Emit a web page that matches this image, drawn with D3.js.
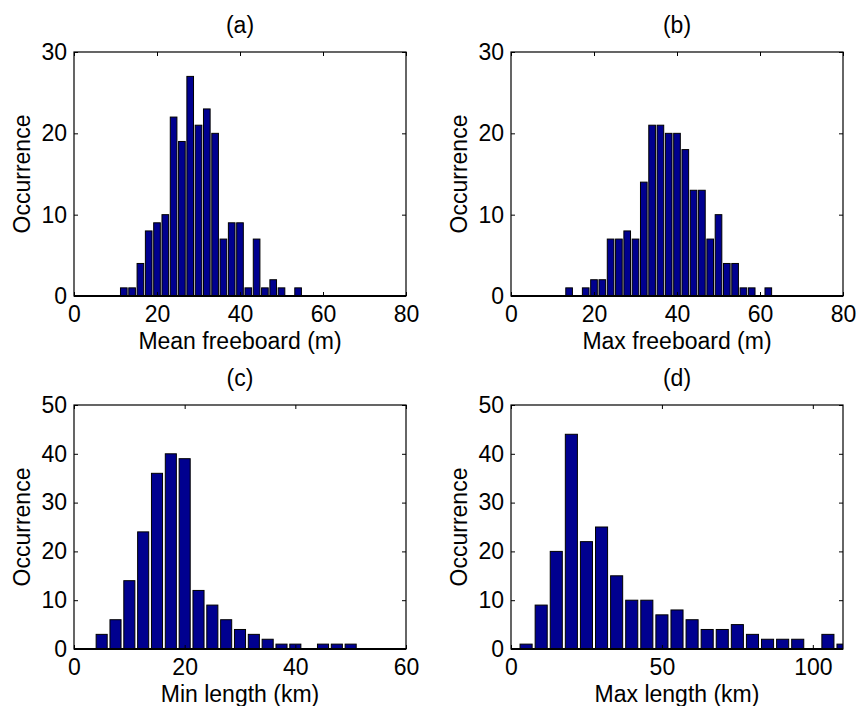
<!DOCTYPE html>
<html>
<head>
<meta charset="utf-8">
<script src="https://cdn.jsdelivr.net/npm/d3@7"></script>
<style>
  html, body { margin: 0; padding: 0; background: #fff; }
  svg { display: block; }
  text { font-family: "Liberation Sans", Arial, Helvetica, sans-serif; fill: #000; }
</style>
</head>
<body>
<svg id="chart" width="857" height="706"></svg>
<script>
// ---- Data ----
const aBins = [12,14,16,18,20,22,24,26,28,30,32,34,36,38,40,42,44,46,48,50,52,54];
const aCounts = [1,1,4,8,9,10,22,19,27,21,23,20,7,9,9,1,7,1,2,1,0,1];

const bBins = [14,16,18,20,22,24,26,28,30,32,34,36,38,40,42,44,46,48,50,52,54,56,58,60,62];
const bCounts = [1,0,1,2,2,7,7,8,7,14,21,21,20,20,18,13,13,7,10,4,4,1,1,0,1];

const cBins = [5,7.5,10,12.5,15,17.5,20,22.5,25,27.5,30,32.5,35,37.5,40,42.5,45,47.5,50];
const cCounts = [3,6,14,24,36,40,39,12,9,6,4,3,2,1,1,0,1,1,1];

const dBins = [5,10,15,20,25,30,35,40,45,50,55,60,65,70,75,80,85,90,95,100,105,110];
const dCounts = [1,9,20,44,22,25,15,10,10,7,8,6,4,4,5,3,2,2,2,0,3,1];

const titles = ["(a)", "(b)", "(c)", "(d)"];
const xLabels = ["Mean freeboard (m)", "Max freeboard (m)", "Min length (km)", "Max length (km)"];
const yLabel = "Occurrence";
const xTicksA = [0,20,40,60,80];
const xTicksB = [0,20,40,60,80];
const xTicksC = [0,20,40,60];
const xTicksD = [0,50,100];
const yTicksTop = [0,10,20,30];
const yTicksBottom = [0,10,20,30,40,50];

// ---- Layout ----
const panels = [
  {bins:aBins, counts:aCounts, binW:2,   xDom:[0,80],  yDom:[0,30], xTicks:xTicksA, yTicks:yTicksTop,    box:[74,406,52,296]},
  {bins:bBins, counts:bCounts, binW:2,   xDom:[0,80],  yDom:[0,30], xTicks:xTicksB, yTicks:yTicksTop,    box:[511,843,52,296]},
  {bins:cBins, counts:cCounts, binW:2.5, xDom:[0,60],  yDom:[0,50], xTicks:xTicksC, yTicks:yTicksBottom, box:[74,406,405,649]},
  {bins:dBins, counts:dCounts, binW:5,   xDom:[0,110], yDom:[0,50], xTicks:xTicksD, yTicks:yTicksBottom, box:[511,843,405,649]}
];

const svg = d3.select("#chart");
const barColor = "#00008F";
const fontSize = 23;

panels.forEach((p, i) => {
  const [x0, x1, y0, y1] = p.box;
  const x = d3.scaleLinear().domain(p.xDom).range([x0, x1]);
  const y = d3.scaleLinear().domain(p.yDom).range([y1, y0]);
  const g = svg.append("g");

  const clipId = "clip" + i;
  svg.append("clipPath").attr("id", clipId)
    .append("rect").attr("x", x0).attr("y", y0 - 1).attr("width", x1 - x0).attr("height", y1 - y0 + 2);

  const data = p.bins.map((b, k) => ({b, c: p.counts[k]}));
  const bw = (x(p.binW) - x(0)) * 0.8;

  g.append("g").attr("clip-path", `url(#${clipId})`)
    .selectAll("rect").data(data.filter(d => d.c > 0)).join("rect")
    .attr("x", d => x(d.b) - bw / 2)
    .attr("y", d => y(d.c))
    .attr("width", bw)
    .attr("height", d => y(0) - y(d.c))
    .attr("fill", barColor)
    .attr("stroke", "#000")
    .attr("stroke-width", 1);

  // axes with inward ticks (MATLAB style)
  const tl = 4;
  const styleAxis = sel => {
    sel.select(".domain").remove();
    sel.selectAll(".tick line").attr("stroke", "#000").attr("stroke-width", 1);
    sel.selectAll(".tick text").attr("font-size", fontSize)
      .attr("font-family", '"Liberation Sans", Arial, sans-serif').attr("fill", "#000");
  };
  const fmt = d3.format("d");

  g.append("g").attr("transform", `translate(0,${y1})`)
    .call(d3.axisBottom(x).tickValues(p.xTicks).tickFormat(fmt).tickSizeInner(-tl).tickSizeOuter(0).tickPadding(10))
    .call(styleAxis);
  g.append("g").attr("transform", `translate(0,${y0})`)
    .call(d3.axisTop(x).tickValues(p.xTicks).tickFormat("").tickSizeInner(-tl).tickSizeOuter(0))
    .call(styleAxis);
  g.append("g").attr("transform", `translate(${x0},0)`)
    .call(d3.axisLeft(y).tickValues(p.yTicks).tickFormat(fmt).tickSizeInner(-tl).tickSizeOuter(0).tickPadding(7))
    .call(styleAxis);
  g.append("g").attr("transform", `translate(${x1},0)`)
    .call(d3.axisRight(y).tickValues(p.yTicks).tickFormat("").tickSizeInner(-tl).tickSizeOuter(0))
    .call(styleAxis);

  // frame
  g.append("rect").attr("x", x0).attr("y", y0).attr("width", x1 - x0).attr("height", y1 - y0)
    .attr("fill", "none").attr("stroke", "#000").attr("stroke-width", 1.2);
  // baseline
  g.append("line").attr("x1", x0).attr("x2", x1).attr("y1", y(0)).attr("y2", y(0))
    .attr("stroke", "#000").attr("stroke-width", 2);

  // title
  g.append("text").attr("x", (x0 + x1) / 2).attr("y", y0 - 19)
    .attr("text-anchor", "middle").attr("font-size", fontSize).text(titles[i]);
  // x label
  g.append("text").attr("x", (x0 + x1) / 2).attr("y", y1 + 53)
    .attr("text-anchor", "middle").attr("font-size", fontSize).text(xLabels[i]);
  // y label
  g.append("text")
    .attr("transform", `translate(${x0 - 44},${(y0 + y1) / 2}) rotate(-90)`)
    .attr("text-anchor", "middle").attr("font-size", fontSize).text(yLabel);
});
</script>
</body>
</html>
